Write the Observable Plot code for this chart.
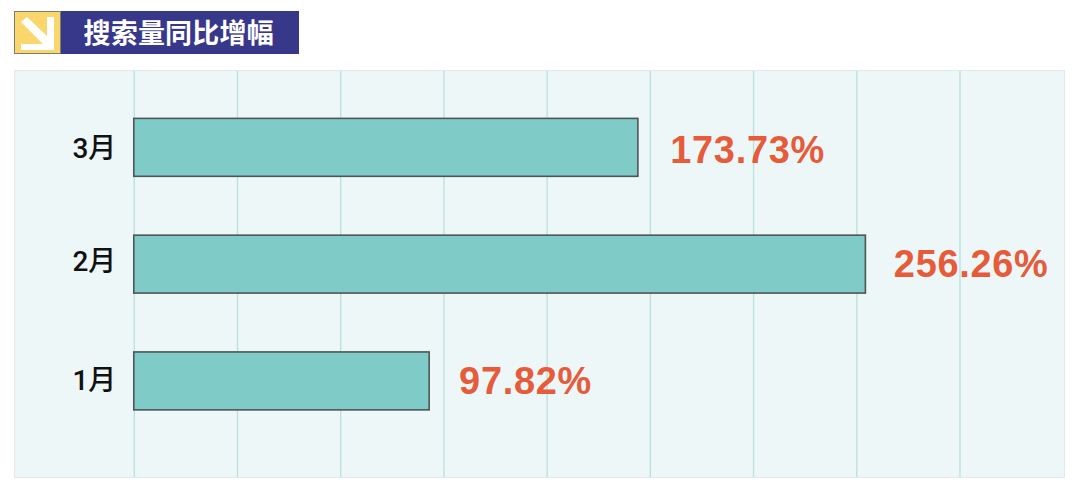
<!DOCTYPE html>
<html><head><meta charset="utf-8">
<script src="https://cdn.jsdelivr.net/npm/d3@7"></script>
<script src="https://cdn.jsdelivr.net/npm/@observablehq/plot@0.6"></script>
<style>
html,body{margin:0;padding:0;background:#fff;width:1080px;height:490px;overflow:hidden}
#head{position:absolute;left:14px;top:11px;height:43px;display:flex}
#icon{width:47px;height:43px;display:block}
#title{width:238px;height:43px;box-sizing:border-box;background:#38388a;color:#fff;font:700 27px "Noto Sans CJK SC",sans-serif;line-height:41px;padding-left:22.5px;letter-spacing:.2px;white-space:nowrap;overflow:hidden}
#chart{position:absolute;left:14px;top:70px;width:1051px;height:408px;box-sizing:border-box;border:1.5px solid #e4e8e8;background:#edf7f8;overflow:hidden}
#chart svg{display:block;position:absolute;left:-1.5px;top:-1.5px}
</style></head><body>
<div id="head">
<svg id="icon" viewBox="0 0 47 43"><rect x=".5" y=".5" width="46" height="42" fill="#f9d76c" stroke="#7d7d72"/><path d="M7 11 L13 6 L33 25 L33 6 L40 6 L40 39 L7 39 L7 33 L29 33 Z" fill="#fff"/></svg>
<div id="title">搜索量同比增幅</div>
</div>
<div id="chart"></div>
<script>
const categories = ["3月", "2月", "1月"];
const barLengths = [176.8, 256.6, 103.6];
const valueLabels = ["173.73%", "256.26%", "97.82%"];
const labelGaps = [32, 28, 29.5];
const valueShift = [3, 0, 0];
const categoryShift = [1.5, -2.5, -0.5];
const gridTicks = [0, 36.2, 72.4, 108.6, 144.8, 181, 217.2, 253.4, 289.6];
const rows = categories.map((c, i) => ({c, v: barLengths[i], t: valueLabels[i], g: labelGaps[i], s: valueShift[i], k: categoryShift[i]}));

const plot = Plot.plot({
  width: 1051, height: 408,
  marginLeft: 120, marginRight: 0, marginTop: 19, marginBottom: 38,
  style: {background: "transparent", overflow: "visible"},
  x: {domain: [0, 325.9], axis: null},
  y: {domain: categories, axis: null, paddingInner: 0.504, paddingOuter: 0.252, round: false},
  marks: [
    Plot.ruleX(gridTicks, {stroke: "#b9e0dd", strokeWidth: 1.3, insetTop: -19, insetBottom: -38}),
    Plot.barX(rows, {x: "v", y: "c", fill: "#7fcbc7", stroke: "#4f5554", strokeWidth: 1.6}),
    ...rows.map(r => Plot.text([r], {text: "c", y: "c", frameAnchor: "left", textAnchor: "start", dx: -62, dy: r.k, fontSize: 28, fontWeight: 500, fill: "#111", fontFamily: "Roboto,'Noto Sans CJK SC',sans-serif"})),
    ...rows.map(r => Plot.text([r], {
      x: "v", y: "c", text: "t", textAnchor: "start", dx: r.g, dy: r.s,
      fontSize: 38, fontWeight: 700, fill: "#e65c3b", fontFamily: "'Liberation Sans',sans-serif"
    }))
  ]
});
plot.querySelectorAll("text").forEach(t => {
  if (t.textContent.endsWith("%")) t.style.letterSpacing = "0.7px";
});
document.getElementById("chart").append(plot);
</script>
</body></html>
